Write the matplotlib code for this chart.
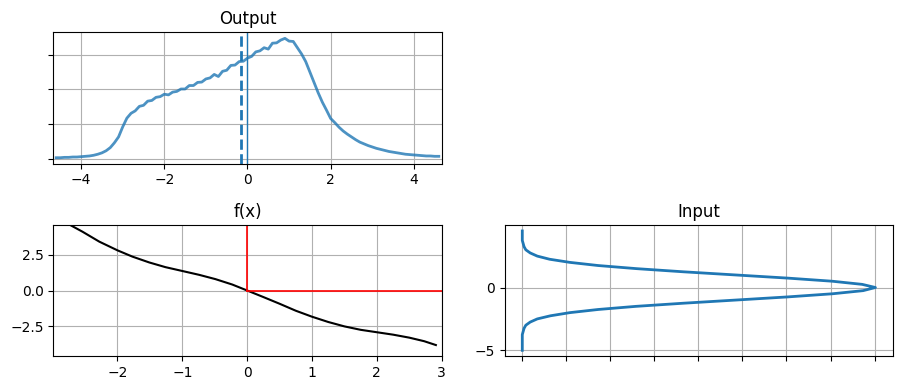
import numpy as np
import matplotlib
matplotlib.use("Agg")
import matplotlib.pyplot as plt

# output density (x step 0.1 from -4.6 to 4.6)
out_x = np.round(np.arange(-4.6, 4.61, 0.1), 2)
out_y = [0.003, 0.003, 0.004, 0.004, 0.005, 0.005, 0.006, 0.007, 0.008, 0.010,
         0.013, 0.017, 0.023, 0.032, 0.046, 0.063, 0.092, 0.117, 0.131, 0.138,
         0.151, 0.154, 0.166, 0.168, 0.177, 0.179, 0.186, 0.184, 0.192, 0.194,
         0.201, 0.201, 0.211, 0.211, 0.220, 0.221, 0.230, 0.233, 0.243, 0.237,
         0.252, 0.255, 0.269, 0.270, 0.280, 0.281, 0.290, 0.295, 0.308, 0.311,
         0.320, 0.316, 0.333, 0.334, 0.342, 0.347, 0.339, 0.338, 0.320, 0.302,
         0.280, 0.250, 0.220, 0.190, 0.163, 0.140, 0.116, 0.104, 0.091, 0.080,
         0.071, 0.063, 0.055, 0.048, 0.043, 0.038, 0.034, 0.030, 0.027, 0.024,
         0.021, 0.019, 0.017, 0.015, 0.013, 0.012, 0.011, 0.010, 0.009, 0.008,
         0.008, 0.007, 0.007]
out_mean = -0.15

# f(x)
fx_x = [-3.0, -2.75, -2.54, -2.28, -2.0, -1.77, -1.51, -1.26, -1.0, -0.74, -0.49, -0.23,
        0.0, 0.25, 0.5, 0.75, 1.0, 1.25, 1.5, 1.75, 2.0, 2.25, 2.5, 2.73, 2.91]
fx_y = [5.35, 4.65, 4.13, 3.43, 2.82, 2.38, 1.97, 1.64, 1.37, 1.10, 0.80, 0.42,
        0.0, -0.46, -0.93, -1.42, -1.84, -2.21, -2.52, -2.76, -2.93, -3.10, -3.31, -3.56, -3.83]

# input density (value on y, density on x)
in_y = [-5.0, -4.75, -4.5, -4.25, -4.0, -3.75, -3.5, -3.25, -3.0, -2.75, -2.5, -2.25,
        -2.0, -1.75, -1.5, -1.25, -1.0, -0.75, -0.5, -0.25, 0.0, 0.25, 0.5, 0.75,
        1.0, 1.25, 1.5, 1.75, 2.0, 2.25, 2.5, 2.75, 3.0, 3.25, 3.5, 3.75, 4.0, 4.25, 4.5]
in_d = [0.000, 0.000, 0.000, 0.000, 0.000, 0.000, 0.001, 0.002, 0.004, 0.009, 0.017, 0.032,
        0.054, 0.086, 0.129, 0.183, 0.242, 0.301, 0.352, 0.387, 0.401, 0.386, 0.352, 0.301,
        0.242, 0.183, 0.130, 0.086, 0.054, 0.031, 0.017, 0.009, 0.004, 0.002, 0.001, 0.000,
        0.000, 0.000, 0.000]

fig, axs = plt.subplots(2, 2, figsize=(9.03, 3.9), dpi=100)
fig.subplots_adjust(left=0.059, right=0.989, bottom=0.0864, top=0.917,
                    wspace=0.162, hspace=0.467)
axs[0, 1].axis("off")

ax = axs[0, 0]
ax.plot(out_x, out_y, color="C0", alpha=0.8, lw=2)
ax.axvline(out_mean, color="C0", ls="--", lw=2)
ax.axvline(0, color="C0", lw=1)
ax.set_xlim(-4.67, 4.67)
ax.set_yticklabels([])
ax.grid(True)
ax.set_title("Output")

ax = axs[1, 0]
ax.plot(fx_x, fx_y, color="k", lw=1.5)
ax.axvline(0, ymin=0.5, color="r", lw=1.2)
ax.axhline(0, xmin=0.5, color="r", lw=1.2)
ax.set_xlim(-2.99, 3)
ax.set_ylim(-4.62, 4.6)
ax.grid(True)
ax.set_title("f(x)")

ax = axs[1, 1]
ax.plot(in_d, in_y, color="C0", lw=2)
ax.set_xticklabels([])
ax.grid(True)
ax.set_title("Input")

fig.savefig("out.png", dpi=100)
